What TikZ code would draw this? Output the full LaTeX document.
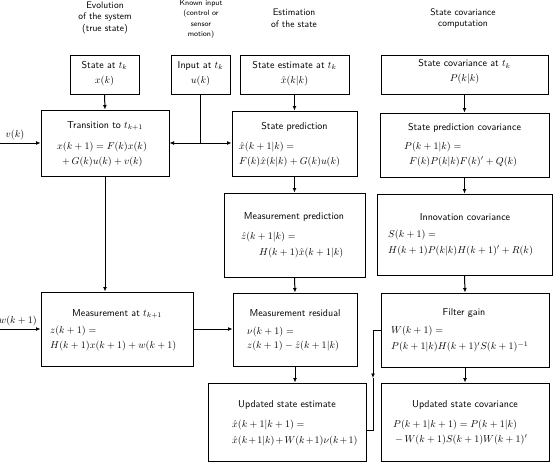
\documentclass[tikz,border=0pt]{standalone}
\usetikzlibrary{arrows.meta}
\begin{document}
\begin{tikzpicture}[x=1pt,y=-1pt,
  box/.style={draw,line width=1pt,inner sep=0pt},
  lbl/.style={inner sep=0pt,font=\sffamily\fontsize{10}{12}\selectfont},
  hdr/.style={inner sep=0pt,font=\sffamily\fontsize{9.5}{11}\selectfont},
  shdr/.style={inner sep=0pt,font=\sffamily\fontsize{7.5}{9}\selectfont},
  eq/.style={inner sep=0pt,anchor=west,font=\fontsize{10}{12}\selectfont},
  conn/.style={line width=1pt},
  arr/.style={line width=1pt,-{Latex[length=4.5pt,width=4pt]}}]
\useasboundingbox (0,0) rectangle (557,474);
% headers
\node[hdr] (h1a) at (105,5.5) {Evolution};
\node[hdr] (h1b) at (105,17) {of the system};
\node[hdr] (h1c) at (105,29.5) {(true state)};
\node[shdr] (h2a) at (201,4) {Known input};
\node[shdr] (h2b) at (201,14) {(control or};
\node[shdr] (h2c) at (201,24.5) {sensor};
\node[shdr] (h2d) at (201,35) {motion)};
\node[hdr] (h3a) at (294,12) {Estimation};
\node[hdr] (h3b) at (294,24) {of the state};
\node[hdr] (h4a) at (463,12) {State covariance};
\node[hdr] (h4b) at (463,24) {computation};
% boxes
\node[box,minimum width=69pt,minimum height=39pt] (sk) at (104.5,74.5) {};
\node[box,minimum width=59pt,minimum height=39pt] (inp) at (200.5,74.5) {};
\node[box,minimum width=109pt,minimum height=39pt] (se) at (294.5,74.5) {};
\node[box,minimum width=167pt,minimum height=39pt] (sc) at (464.5,74.5) {};
\node[box,minimum width=128pt,minimum height=66pt] (tr) at (105,143) {};
\node[box,minimum width=125pt,minimum height=65pt] (sp) at (294.5,143.5) {};
\node[box,minimum width=169pt,minimum height=64pt] (spc) at (464.5,145) {};
\node[box,minimum width=141pt,minimum height=84pt] (mp) at (294.5,235) {};
\node[box,minimum width=175pt,minimum height=81pt] (ic) at (464.5,234.5) {};
\node[box,minimum width=152pt,minimum height=74pt] (me) at (117,329) {};
\node[box,minimum width=124pt,minimum height=73pt] (mr) at (295,329.5) {};
\node[box,minimum width=168pt,minimum height=74pt] (fg) at (465,330) {};
\node[box,minimum width=158pt,minimum height=78pt] (use) at (287,422) {};
\node[box,minimum width=168pt,minimum height=78pt] (usc) at (465,422) {};
% texts row 1
\node[lbl] (sk-t) at (104.5,65.5) {State at $t_k$};
\node[lbl] (sk-e) at (104.5,80.5) {$x(k)$};
\node[lbl] (inp-t) at (200.5,65.5) {Input at $t_k$};
\node[lbl] (inp-e) at (200.5,80.5) {$u(k)$};
\node[lbl] (se-t) at (294.5,65.5) {State estimate at $t_k$};
\node[lbl] (se-e) at (294.5,80.5) {$\hat{x}(k|k)$};
\node[lbl] (sc-t) at (464.5,64) {State covariance at $t_k$};
\node[lbl] (sc-e) at (464.5,78.5) {$P(k|k)$};
% row 2
\node[lbl] (tr-t) at (105,126) {Transition to $t_{k+1}$};
\node[eq] (tr-a) at (57,147) {$x(k+1) = F(k)x(k)$};
\node[eq] (tr-b) at (62,161.5) {$+\,G(k)u(k) + v(k)$};
\node[lbl] (sp-t) at (294.5,127) {State prediction};
\node[eq] (sp-a) at (239,146.5) {$\hat{x}(k+1|k) =$};
\node[eq] (sp-b) at (239,162) {$F(k)\hat{x}(k|k) + G(k)u(k)$};
\node[lbl] (spc-t) at (464.5,128) {State prediction covariance};
\node[eq] (spc-a) at (404,147) {$P(k+1|k) =$};
\node[eq] (spc-b) at (409,162) {$F(k)P(k|k)F(k)' + Q(k)$};
% row 3
\node[lbl] (mp-t) at (294,217) {Measurement prediction};
\node[eq] (mp-a) at (241,236.5) {$\hat{z}(k+1|k) =$};
\node[eq] (mp-b) at (259,252.5) {$H(k+1)\hat{x}(k+1|k)$};
\node[lbl] (ic-t) at (465,217) {Innovation covariance};
\node[eq] (ic-a) at (388,235) {$S(k+1) =$};
\node[eq] (ic-b) at (388,251) {$H(k+1)P(k|k)H(k+1)' + R(k)$};
% row 4
\node[lbl] (me-t) at (117,314) {Measurement at $t_{k+1}$};
\node[eq] (me-a) at (50,331) {$z(k+1) =$};
\node[eq] (me-b) at (50,345.5) {$H(k+1)x(k+1) + w(k+1)$};
\node[lbl] (mr-t) at (295,313) {Measurement residual};
\node[eq] (mr-a) at (247,331.5) {$\nu(k+1) =$};
\node[eq] (mr-b) at (247,346) {$z(k+1) - \hat{z}(k+1|k)$};
\node[lbl] (fg-t) at (464,313) {Filter gain};
\node[eq] (fg-a) at (391,330.5) {$W(k+1) =$};
\node[eq] (fg-b) at (391,347) {$P(k+1|k)H(k+1)'S(k+1)^{-1}$};
% row 5
\node[lbl] (use-t) at (287,405) {Updated state estimate};
\node[eq] (use-a) at (232,424.5) {$\hat{x}(k+1|k+1) =$};
\node[eq] (use-b) at (232,440.5) {$\medmuskip=2mu \hat{x}(k+1|k) + W(k+1)\nu(k+1)$};
\node[lbl] (usc-t) at (465,405) {Updated state covariance};
\node[eq] (usc-a) at (393,425) {$P(k+1|k+1) = P(k+1|k)$};
\node[eq] (usc-b) at (395,440) {$-\,W(k+1)S(k+1)W(k+1)'$};
% side inputs
\coordinate (vin) at (0,143);
\coordinate (win) at (0,329);
\node[eq,anchor=center] (vlab) at (15,135) {$v(k)$};
\node[eq,anchor=east] (wlab) at (37,321) {$w(k+1)$};
\draw[arr] (vin) -- (tr.west);
\draw[arr] (win) -- (me.west);
% connectors
\coordinate (junc) at (200.5,143);
\draw[arr] (sk.south) -- (tr.north);
\draw[conn] (inp.south) -- (junc);
\draw[arr] (junc) -- (tr.east |- junc);
\draw[arr] (junc) -- (sp.west |- junc);
\draw[arr] (se.south) -- (sp.north);
\draw[arr] (sc.south) -- (spc.north);
\draw[arr] (sp.south) -- (mp.north);
\draw[arr] (spc.south) -- (ic.north);
\draw[arr] (mp.south) -- (mr.north);
\draw[arr] (ic.south) -- (fg.north);
\draw[arr] (tr.south) -- (tr.south |- me.north);
\draw[arr] (me.east) -- (me.east -| mr.west);
\draw[arr] (mr.south) -- (mr.south |- use.north);
\draw[arr] (fg.south) -- (usc.north);
\coordinate (g1) at (373,330);
\coordinate (gm) at (373,378);
\coordinate (g2) at (373,430);
\draw[arr] (fg.west) -- (g1) -- (gm);
\draw[conn] (gm) -- (g2) -- (use.east |- g2);
\end{tikzpicture}
\end{document}
